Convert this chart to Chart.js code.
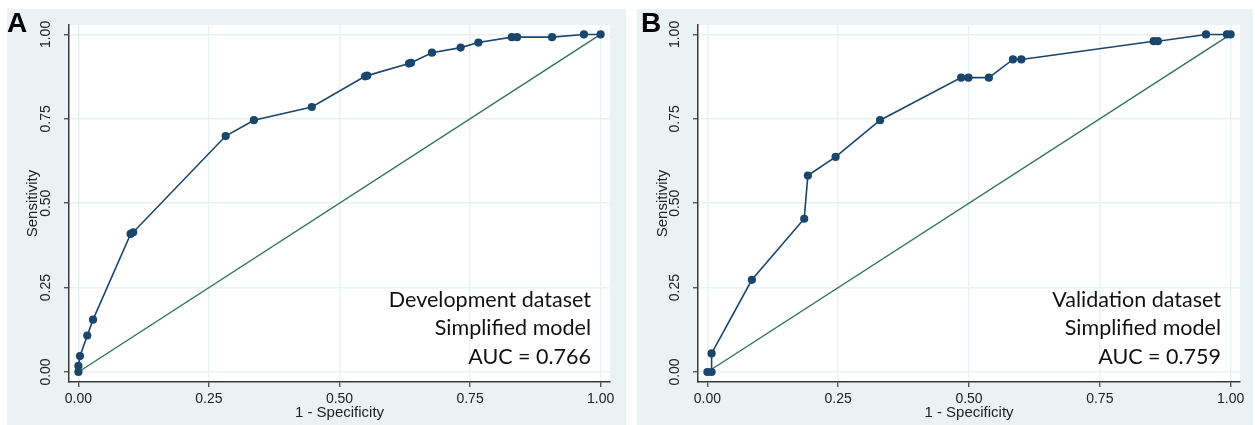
<!DOCTYPE html>
<html>
<head>
<meta charset="utf-8">
<script src="https://cdn.jsdelivr.net/npm/chart.js@4/dist/chart.umd.min.js"></script>
<style>
  html, body { margin: 0; padding: 0; background: #ffffff; }
  body { width: 1255px; height: 425px; position: relative; overflow: hidden; }
  .panel { position: absolute; background: #eaf2f3; }
  .panel canvas { position: absolute; left: 0; top: 0; }
  .letter { position: absolute; font-family: "Liberation Sans", Arial, sans-serif; font-weight: bold;
            font-size: 28px; line-height: 28px; color: #000; }
</style>
</head>
<body>
<div class="panel" id="pA" style="left:7px; top:9px; width:619px; height:416px;"><canvas id="cA" width="619" height="416"></canvas></div>
<div class="panel" id="pB" style="left:637px; top:9px; width:616px; height:416px;"><canvas id="cB" width="616" height="416"></canvas></div>
<div class="letter" style="left:7px; top:9px;">A</div>
<div class="letter" style="left:641px; top:9px;">B</div>
<script>
// ---- Data ----
const tickValues = [0, 0.25, 0.5, 0.75, 1];
const tickLabels = ["0.00", "0.25", "0.50", "0.75", "1.00"];

const devFPR  = [0, 0, 0.003, 0.017, 0.028, 0.100, 0.105, 0.282, 0.336, 0.447, 0.549, 0.553, 0.633, 0.637, 0.677, 0.732, 0.766, 0.830, 0.840, 0.907, 0.968, 1.0];
const devSens = [0, 0.018, 0.047, 0.108, 0.155, 0.409, 0.414, 0.699, 0.746, 0.785, 0.876, 0.878, 0.914, 0.916, 0.946, 0.961, 0.976, 0.992, 0.992, 0.992, 1.0, 1.0];

const valFPR  = [0, 0.008, 0.008, 0.085, 0.185, 0.192, 0.245, 0.330, 0.485, 0.499, 0.538, 0.584, 0.600, 0.853, 0.861, 0.953, 0.993, 1.0];
const valSens = [0, 0, 0.055, 0.273, 0.454, 0.582, 0.637, 0.746, 0.872, 0.872, 0.872, 0.926, 0.926, 0.980, 0.980, 1.0, 1.0, 1.0];

const refX = [0, 1];
const refY = [0, 1];

const devLabels = ["Development dataset", "Simplified model", "AUC = 0.766"];
const valLabels = ["Validation dataset", "Simplified model", "AUC = 0.759"];

const xTitle = "1 - Specificity";
const yTitle = "Sensitivity";

// ---- Styles ----
const NAVY = "#1a456c";
const GREEN = "#2f7656";
const GRID = "#eaf2f3";
const AXIS = "#3a3a3a";

const plotBg = {
  id: "plotBg",
  beforeDraw(chart) {
    const a = chart.chartArea, ctx = chart.ctx;
    ctx.save();
    ctx.fillStyle = "#ffffff";
    ctx.fillRect(a.left, a.top, a.right - a.left, a.bottom - a.top);
    ctx.restore();
  }
};

const noteText = {
  id: "noteText",
  afterDatasetsDraw(chart, args, opts) {
    const a = chart.chartArea, ctx = chart.ctx;
    ctx.save();
    ctx.font = '21.5px Lato, "Open Sans", sans-serif';
    ctx.fillStyle = "#111111";
    ctx.textAlign = "right";
    ctx.textBaseline = "middle";
    const xr = a.right - 19;
    const y0 = a.bottom - 82;
    opts.lines.forEach((t, i) => ctx.fillText(t, xr, y0 + i * 28.5));
    ctx.restore();
  }
};

function pts(xs, ys) { return xs.map((x, i) => ({ x: x, y: ys[i] })); }

function axisCommon() {
  return {
    type: "linear",
    afterBuildTicks(scale) { scale.ticks = tickValues.map(v => ({ value: v })); },
    grid: { color: GRID, lineWidth: 1.5, tickColor: AXIS, tickLength: 5, tickWidth: 1.2, drawTicks: true },
    border: { display: true, color: AXIS, width: 1.5 },
  };
}

function makeChart(id, xs, ys, lines, padRight) {
  const xAx = axisCommon();
  Object.assign(xAx, {
    min: -0.018, max: 1.018,
    afterFit(s) { s.height = 43; },
    ticks: { autoSkip: false, padding: 4, color: "#222", font: { family: '"Liberation Sans", Arial, sans-serif', size: 14 },
             maxRotation: 0, minRotation: 0,
             callback: (v) => tickLabels[tickValues.indexOf(v)] },
    title: { display: true, text: xTitle, color: "#222", padding: { top: 0, bottom: 3 },
             font: { family: '"Liberation Sans", Arial, sans-serif', size: 15 } }
  });
  const yAx = axisCommon();
  Object.assign(yAx, {
    min: -0.0297, max: 1.028,
    afterFit(s) { s.width = (id === "cA") ? 62 : 61; },
    ticks: { autoSkip: false, padding: 4, color: "#222", font: { family: '"Liberation Sans", Arial, sans-serif', size: 14 },
             minRotation: 90, maxRotation: 90, crossAlign: "center",
             callback: (v) => tickLabels[tickValues.indexOf(v)] },
    title: { display: true, text: yTitle, color: "#222", padding: { top: 17, bottom: 0 },
             font: { family: '"Liberation Sans", Arial, sans-serif', size: 15 } }
  });
  return new Chart(document.getElementById(id), {
    type: "scatter",
    data: {
      datasets: [
        { data: pts(xs, ys), showLine: true, borderColor: NAVY, backgroundColor: NAVY, borderWidth: 1.6,
          pointRadius: 4.1, pointBorderWidth: 0, pointHoverRadius: 4.1, tension: 0 },
        { data: pts(refX, refY), showLine: true, borderColor: GREEN, backgroundColor: GREEN, borderWidth: 1.4,
          pointRadius: 0, tension: 0 }
      ]
    },
    options: {
      responsive: false, animation: false, devicePixelRatio: 1,
      layout: { padding: { top: 16, right: padRight, bottom: 0, left: 0 } },
      plugins: { legend: { display: false }, tooltip: { enabled: false }, noteText: { lines: lines } },
      scales: { x: xAx, y: yAx }
    },
    plugins: [plotBg, noteText]
  });
}

makeChart("cA", devFPR, devSens, devLabels, 16);
makeChart("cB", valFPR, valSens, valLabels, 13);
</script>
</body>
</html>
